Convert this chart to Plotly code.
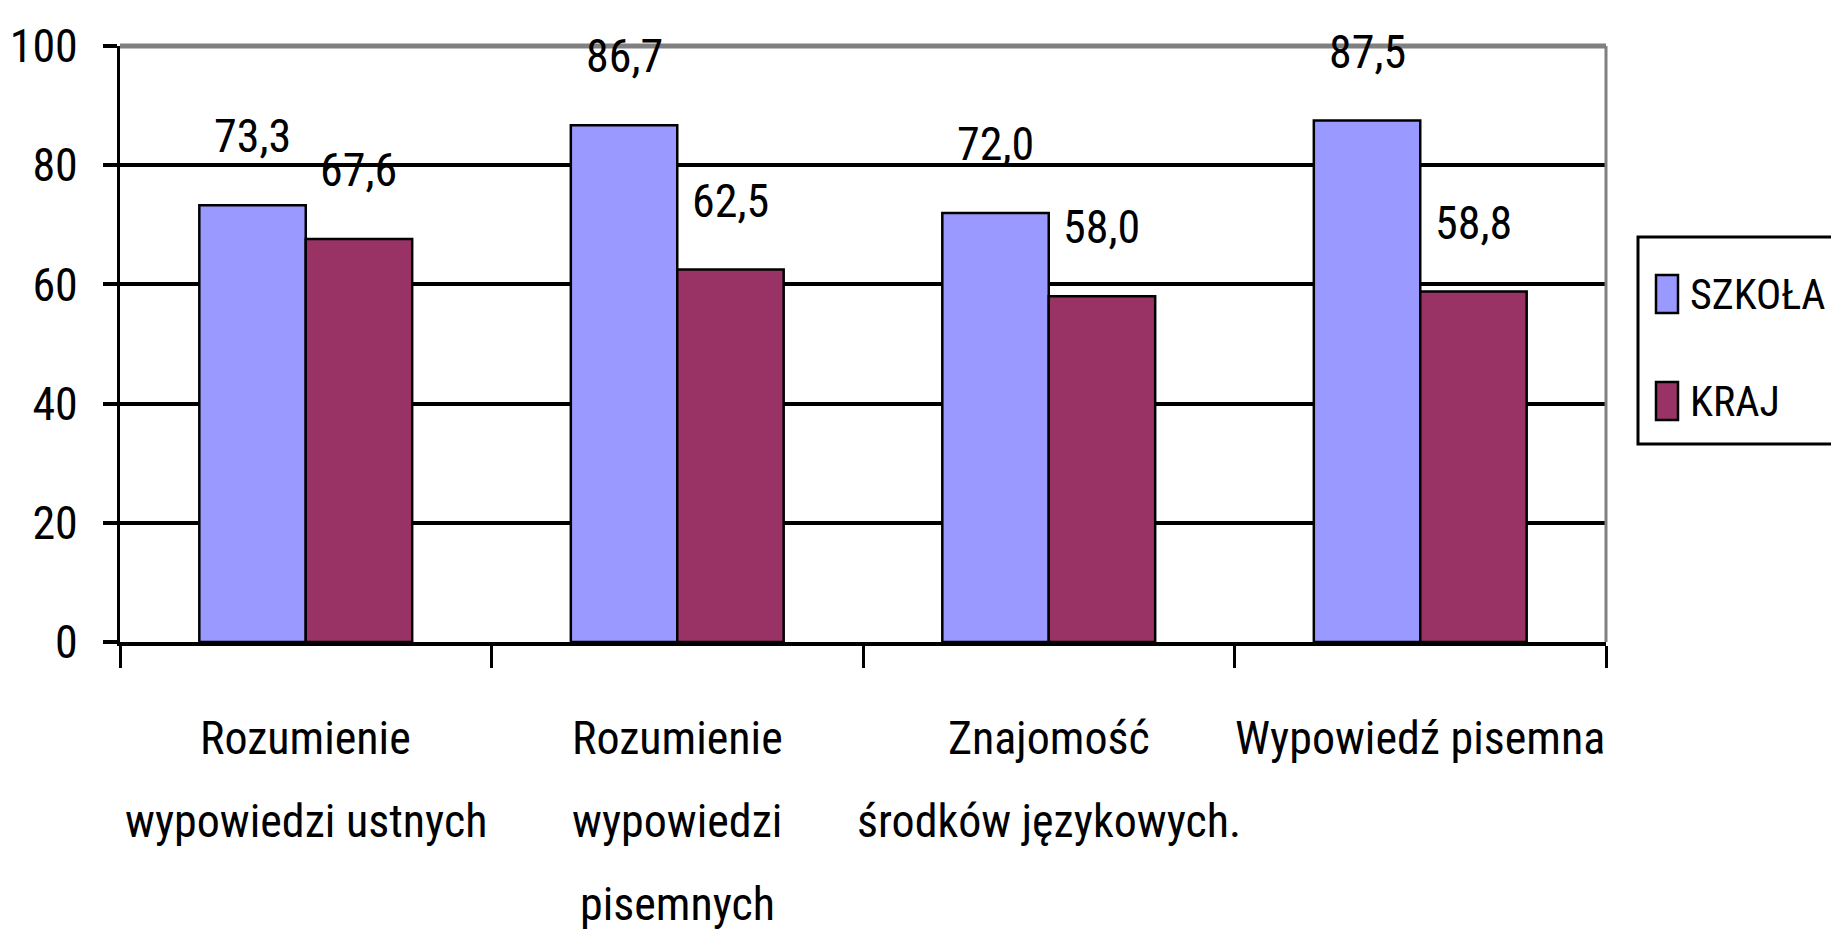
import plotly.graph_objects as go

categories = ["Rozumienie\nwypowiedzi ustnych", "Rozumienie\nwypowiedzi\npisemnych",
              "Znajomość\nśrodków językowych.", "Wypowiedź pisemna"]
series_names = ["SZKOŁA", "KRAJ"]
szkola = [73.3, 86.7, 72.0, 87.5]
kraj = [67.6, 62.5, 58.0, 58.8]
y_ticks = [0, 20, 40, 60, 80, 100]

colors = ["#9999FF", "#993366"]
FONT = "Roboto Condensed, Liberation Sans Narrow, Arial Narrow, sans-serif"
FS = 46

W, H = 1839, 930
L, R, T, B = 112, 1598, 38, 634
pw, ph = R - L, B - T
bargap = 0.427

def px(xp):
    return (xp - L) / pw

def py(yp):
    return (B - yp) / ph

xs = list(range(len(categories)))
fig = go.Figure()
for name, vals, col in zip(series_names, [szkola, kraj], colors):
    fig.add_trace(go.Bar(x=xs, y=vals, name=name,
                         marker=dict(color=col, line=dict(color="black", width=2.5)),
                         showlegend=False))

cat_w = pw / len(categories)
bar_w = (1 - bargap) * cat_w / 2
annotations = []
for si, vals in enumerate([szkola, kraj]):
    off = (si - 0.5) * bar_w
    for i, v in enumerate(vals):
        annotations.append(dict(x=xs[i], y=v, xref="x", yref="y", text=f"{v:.1f}".replace(".", ","),
                                showarrow=False, xshift=off, yshift=69, yanchor="middle",
                                font=dict(family=FONT, size=FS, color="black")))
# category labels (wrapped lines, Excel-like spacing)
for i, cat in enumerate(categories):
    for j, line in enumerate(cat.split("\n")):
        annotations.append(dict(x=xs[i], y=0, xref="x", yref="paper", text=line, showarrow=False,
                                yanchor="middle", yshift=-(96 + 83 * j),
                                font=dict(family=FONT, size=FS, color="black")))

shapes = [
    dict(type="line", xref="paper", yref="paper", x0=0, x1=1, y0=1, y1=1, line=dict(color="#808080", width=5)),
    dict(type="line", xref="paper", yref="paper", x0=1, x1=1, y0=0, y1=1, line=dict(color="#808080", width=3)),
    # legend box
    dict(type="rect", xref="paper", yref="paper", x0=px(1630), x1=px(1850), y0=py(436), y1=py(229),
         line=dict(color="black", width=3), fillcolor="white"),
]
leg_y = [286, 393]
for name, col, yc in zip(series_names, colors, leg_y):
    shapes.append(dict(type="rect", xref="paper", yref="paper", x0=px(1648), x1=px(1670),
                       y0=py(yc + 19), y1=py(yc - 19), line=dict(color="black", width=2.5), fillcolor=col))
    annotations.append(dict(x=px(1680), y=py(yc), xref="paper", yref="paper", text=name, showarrow=False,
                            xanchor="left", yanchor="middle", font=dict(family=FONT, size=42, color="black")))

fig.update_layout(
    width=W, height=H, margin=dict(l=L, r=W - R, t=T, b=H - B, pad=0, autoexpand=False),
    paper_bgcolor="white", plot_bgcolor="white", barmode="group", bargap=bargap, bargroupgap=0,
    font=dict(family=FONT, size=FS, color="black"),
    annotations=annotations, shapes=shapes, showlegend=False,
)
fig.update_xaxes(range=[-0.5, len(categories) - 0.5], tickmode="array",
                 tickvals=[x - 0.5 for x in xs] + [xs[-1] + 0.5],
                 showticklabels=False, ticks="outside",
                 ticklen=22, tickwidth=2.5, tickcolor="black", showline=True, linecolor="black", linewidth=4,
                 showgrid=False, zeroline=False)
fig.update_yaxes(range=[0, 100], tickmode="array", tickvals=y_ticks, ticktext=[str(t) for t in y_ticks],
                 ticks="outside", ticklen=14, tickwidth=3.5, tickcolor="black", ticklabelstandoff=16,
                 showline=True, linecolor="black", linewidth=3, showgrid=True, gridcolor="black",
                 gridwidth=3.5, zeroline=False, tickfont=dict(family=FONT, size=FS, color="black"))

fig.write_html("out.html")
